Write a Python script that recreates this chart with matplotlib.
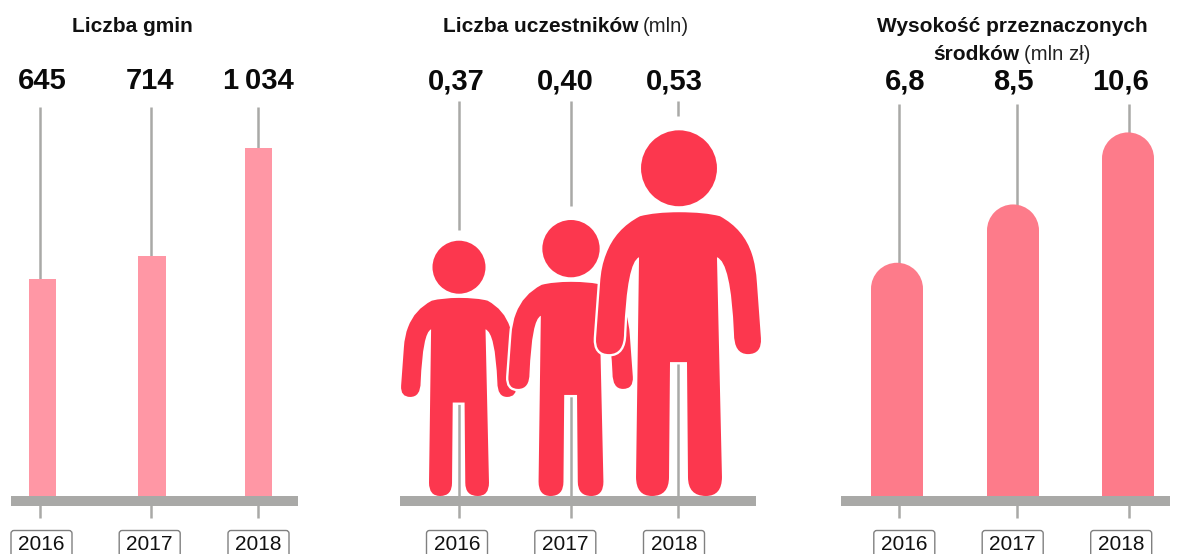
import matplotlib
matplotlib.use('Agg')
import matplotlib.pyplot as plt
from matplotlib.path import Path
from matplotlib.patches import PathPatch, Ellipse, FancyBboxPatch

plt.rcParams['font.family'] = ['Liberation Sans', 'DejaVu Sans']

# data
years = ['2016', '2017', '2018']
gminy = [645, 714, 1034]
uczestnicy = [0.37, 0.40, 0.53]
srodki = [6.8, 8.5, 10.6]
gminy_labels = ['645', '714', '1\u2009034']
uczestnicy_labels = ['0,37', '0,40', '0,53']
srodki_labels = ['6,8', '8,5', '10,6']

W, H = 1187, 554
BASE = 496
GRAY = '#a9a9a7'
col_left, col_mid, col_right = '#ff97a5', '#fc374e', '#fd7b8a'

fig = plt.figure(figsize=(W / 100, H / 100), dpi=100)

# pixel overlay for lines and text
ov = fig.add_axes([0, 0, 1, 1], zorder=1)
ov.set_xlim(0, W)
ov.set_ylim(H, 0)
ov.axis('off')


def panel(scale):
    # transparent axes from the baseline up, x in picture pixels
    ax = fig.add_axes([0, (H - BASE) / H, 1, BASE / H], zorder=2)
    ax.set_xlim(0, W)
    ax.set_ylim(0, BASE / scale)
    ax.axis('off')
    return ax


def vline(x, y0, y1):
    ov.plot([x, x], [y0, y1], color=GRAY, lw=1.8, solid_capstyle='butt')


def furniture(x0, x1, box_x, val_x, labels):
    ov.fill_between([x0, x1], BASE, BASE + 10, color=GRAY, lw=0)
    for bx, y in zip(box_x, years):
        ov.add_patch(FancyBboxPatch((bx - 30.5, 530.5), 61, 32, boxstyle='round,pad=0,rounding_size=3',
                                    fc='white', ec='#808080', lw=1))
        ov.text(bx, 549.5, y, ha='center', va='baseline', fontsize=15, color='#111111')
    for vx, lab in zip(val_x, labels):
        ov.text(vx, 89, lab, ha='center', va='baseline', fontsize=21, fontweight='bold', color='#0a0a0a')


def title(cx, y, bold, light=''):
    rend = fig.canvas.get_renderer()
    t1 = ov.text(cx, y, bold, fontsize=15, fontweight='bold', va='baseline', color='#111111')
    w1 = t1.get_window_extent(rend).width
    if not light:
        t1.set_x(cx - w1 / 2)
        return
    t2 = ov.text(cx, y, light, fontsize=14.6, va='baseline', color='#222222')
    w2 = t2.get_window_extent(rend).width
    gap = 5
    left = cx - (w1 + gap + w2) / 2
    t1.set_x(left)
    t2.set_x(left + w1 + gap)


# person icon, drawn at 366 px tall, centre 679, then normalised
M, L, Q = Path.MOVETO, Path.LINETO, Path.CURVE3
body_px = [
    (M, 679, 212), (Q, 705, 212), (Q, 720, 216), (Q, 744, 229), (Q, 752, 254),
    (Q, 756, 266), (Q, 757, 283),
    (L, 761, 338), (Q, 762, 354), (Q, 748, 354), (Q, 734, 354), (Q, 734, 333),
    (Q, 731, 262), (Q, 717, 257), (L, 722, 477), (Q, 722, 496), (Q, 706, 496),
    (Q, 688, 496), (Q, 688, 477), (L, 687, 362), (L, 670, 362), (L, 669, 477),
    (Q, 669, 496), (Q, 652, 496), (Q, 636, 496), (Q, 636, 477), (L, 639, 257),
    (Q, 627, 262), (Q, 624, 333), (Q, 624, 354), (Q, 609, 354), (Q, 595, 354),
    (Q, 596, 338), (L, 600, 283), (Q, 601, 266), (Q, 606, 254), (Q, 615, 229),
    (Q, 640, 216), (Q, 655, 212), (Q, 679, 212),
]
codes = [p[0] for p in body_px]
body = [((p[1] - 679) / 366, (BASE - p[2]) / 366) for p in body_px]
head_y, head_r = (BASE - 168) / 366, 38 / 366
crotch = (BASE - 362) / 366


def person(ax, cx, value, scale):
    h = value * scale
    verts = [(cx + x * h, y * value) for x, y in body]
    pth = Path(verts, codes)
    hx, hy = 2 * head_r * h, 2 * head_r * value
    head = (cx, head_y * value)
    ax.add_patch(PathPatch(pth, fc='white', ec='white', lw=3.4))
    ax.add_patch(Ellipse(head, hx, hy, fc='white', ec='white', lw=3.4))
    ax.add_patch(PathPatch(pth, fc=col_mid, ec='none'))
    ax.add_patch(Ellipse(head, hx, hy, fc=col_mid, ec='none'))


# left panel
s_left = 0.3365
ax1 = panel(s_left)
furniture(11, 298, [41.5, 149.7, 258.5], [42, 150, 258], gminy_labels)
for lx in [39.5, 151, 258]:
    vline(lx, 107, BASE + 22)
ax1.bar([42.5, 152, 258.5], gminy, width=27.5, color=col_left)
title(132, 32, 'Liczba gmin')

# middle panel
s_mid = 690
ax2 = panel(s_mid)
furniture(400, 756, [457, 565.3, 674], [456.5, 565.5, 674], uczestnicy_labels)
for lx, y_end, v in zip([459, 571, 678], [230, 206, 116], uczestnicy):
    vline(lx, 101, y_end)
    vline(lx, BASE - crotch * v * s_mid, BASE + 22)
for cx, v in zip([459, 571, 679], uczestnicy):
    person(ax2, cx, v, s_mid)
title(566, 32, 'Liczba uczestników', '(mln)')

# right panel
s_right = 34.3
ax3 = panel(s_right)
furniture(841, 1170, [904.3, 1012.7, 1121.2], [905, 1013, 1121], srodki_labels)
for lx in [899, 1017, 1129]:
    vline(lx, 104, BASE + 22)
r_px = 26
for cx, v in zip([897, 1013, 1128], srodki):
    ax3.bar(cx, v - r_px / s_right, width=52, color=col_right)
    ax3.add_patch(Ellipse((cx, v - r_px / s_right), 52, 2 * r_px / s_right, fc=col_right, ec='none'))
title(1012, 32, 'Wysokość przeznaczonych')
title(1012, 59.5, 'środków', '(mln zł)')

fig.savefig('out.png', dpi=100)
